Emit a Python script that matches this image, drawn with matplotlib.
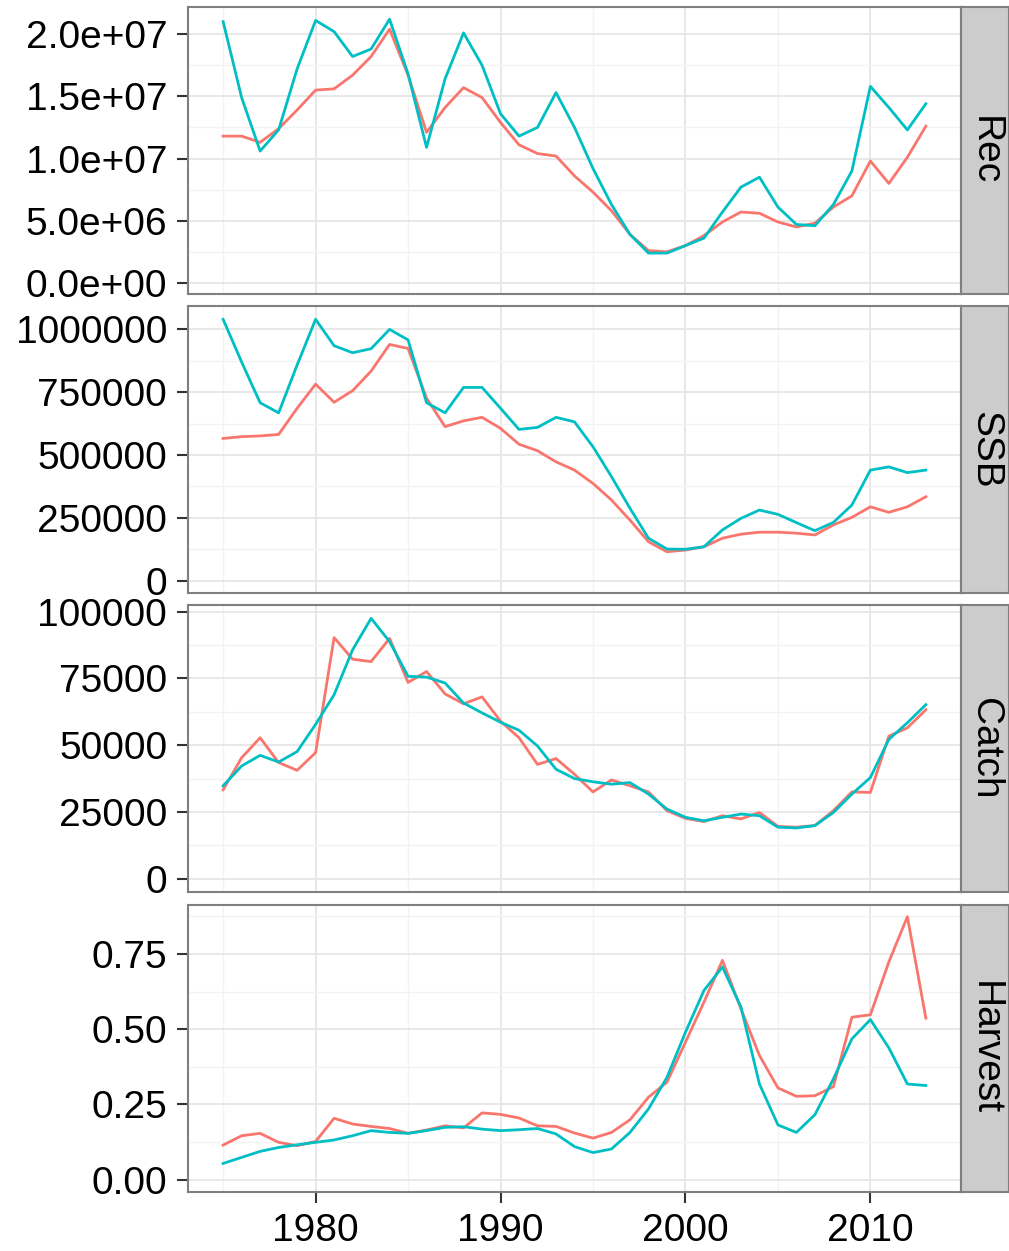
import numpy as np
import matplotlib
matplotlib.use("Agg")
import matplotlib.pyplot as plt
from matplotlib.ticker import FixedLocator

plt.rcParams['font.family'] = ['Liberation Sans', 'DejaVu Sans']

years = np.arange(1975, 2014)

# Rec (millions)
rec_red = [11.8, 11.8, 11.3, 12.4, 13.9, 15.5, 15.6, 16.7, 18.2, 20.4,
           16.7, 12.1, 14.1, 15.7, 14.9, 12.9, 11.1, 10.4, 10.2, 8.6,
           7.3, 5.8, 3.9, 2.6, 2.5, 3.0, 3.8, 4.9, 5.7, 5.6,
           4.9, 4.5, 4.8, 6.1, 7.0, 9.8, 8.0, 10.1, 12.6]
rec_cyan = [21.0, 14.9, 10.6, 12.3, 17.2, 21.1, 20.2, 18.2, 18.8, 21.2,
            16.8, 10.9, 16.4, 20.1, 17.5, 13.6, 11.8, 12.5, 15.3, 12.5,
            9.2, 6.3, 3.9, 2.4, 2.4, 3.0, 3.6, 5.7, 7.7, 8.5,
            6.1, 4.7, 4.6, 6.3, 9.0, 15.8, 14.1, 12.3, 14.4]

# SSB (thousands)
ssb_red = [566, 573, 576, 582, 686, 782, 710, 756, 834, 940,
           924, 726, 613, 636, 650, 606, 543, 517, 473, 440,
           387, 321, 241, 155, 115, 122, 135, 169, 185, 193,
           193, 189, 182, 222, 252, 294, 272, 294, 334]
ssb_cyan = [1040, 870, 708, 668, 858, 1040, 935, 907, 923, 1000,
            958, 708, 668, 769, 769, 686, 602, 610, 650, 632,
            533, 414, 288, 169, 126, 125, 135, 202, 248, 281,
            264, 231, 199, 232, 301, 440, 453, 430, 440]

# Catch (thousands)
catch_red = [33.3, 45.3, 52.8, 43.5, 40.6, 47.2, 90.3, 82.2, 81.3, 90.0,
             73.5, 77.6, 69.2, 65.5, 68.1, 59.0, 52.8, 42.8, 45.0, 39.1,
             32.5, 37.0, 34.8, 32.5, 25.5, 22.6, 21.4, 23.6, 22.4, 24.8,
             19.6, 19.3, 19.9, 25.5, 32.5, 32.3, 53.4, 56.5, 63.3]
catch_cyan = [34.8, 42.2, 46.2, 43.7, 47.6, 57.8, 68.9, 85.7, 97.5, 88.8,
              75.8, 75.5, 73.3, 65.8, 62.1, 58.6, 55.6, 49.7, 41.0, 37.5,
              36.3, 35.4, 36.0, 31.7, 26.1, 23.0, 21.7, 23.0, 24.2, 23.6,
              19.3, 19.0, 19.9, 24.8, 31.7, 37.9, 52.2, 58.4, 65.2]

# Harvest
harv_red = [0.115, 0.146, 0.154, 0.124, 0.113, 0.127, 0.204, 0.185, 0.177, 0.170,
            0.154, 0.165, 0.179, 0.172, 0.222, 0.217, 0.205, 0.179, 0.177, 0.155,
            0.138, 0.157, 0.199, 0.274, 0.324, 0.457, 0.590, 0.729, 0.568, 0.413,
            0.305, 0.277, 0.279, 0.309, 0.540, 0.548, 0.724, 0.874, 0.537]
harv_cyan = [0.054, 0.074, 0.094, 0.107, 0.116, 0.124, 0.132, 0.146, 0.163, 0.157,
             0.154, 0.163, 0.174, 0.176, 0.168, 0.163, 0.166, 0.170, 0.152, 0.110,
             0.090, 0.102, 0.157, 0.235, 0.340, 0.490, 0.629, 0.707, 0.574, 0.318,
             0.182, 0.157, 0.216, 0.335, 0.468, 0.532, 0.438, 0.318, 0.313]

panels = [
    ("Rec", np.array(rec_red) * 1e6, np.array(rec_cyan) * 1e6,
     [0, 5e6, 1e7, 1.5e7, 2e7],
     ["0.0e+00", "5.0e+06", "1.0e+07", "1.5e+07", "2.0e+07"],
     (-0.89e6, 22.18e6)),
    ("SSB", np.array(ssb_red) * 1e3, np.array(ssb_cyan) * 1e3,
     [0, 250000, 500000, 750000, 1000000],
     ["0", "250000", "500000", "750000", "1000000"],
     (-49e3, 1093e3)),
    ("Catch", np.array(catch_red) * 1e3, np.array(catch_cyan) * 1e3,
     [0, 25000, 50000, 75000, 100000],
     ["0", "25000", "50000", "75000", "100000"],
     (-4.97e3, 102.5e3)),
    ("Harvest", np.array(harv_red), np.array(harv_cyan),
     [0, 0.25, 0.5, 0.75],
     ["0.00", "0.25", "0.50", "0.75"],
     (-0.041, 0.913)),
]

W, H = 1009, 1251
fig = plt.figure(figsize=(W / 100, H / 100), dpi=100)

left, right = 188, 961
tops = [7, 306, 605, 905]
ph = 287
border = "#7F7F7F"
fs = 28

for i, (name, red, cyan, yt, ylab, ylim) in enumerate(panels):
    top = tops[i]
    ax = fig.add_axes([left / W, 1 - (top + ph) / H, (right - left) / W, ph / H])
    ax.plot(years, red, color="#F8766D", lw=2.0, zorder=3)
    ax.plot(years, cyan, color="#00BFC4", lw=2.0, zorder=3)
    ax.set_xlim(1973.1, 2014.9)
    ax.set_ylim(*ylim)
    ax.yaxis.set_major_locator(FixedLocator(yt))
    ax.set_yticklabels(ylab)
    minor_y = [(a + b) / 2 for a, b in zip(yt[:-1], yt[1:])]
    if ylim[1] > yt[-1] + (yt[1] - yt[0]) / 2:
        minor_y.append(yt[-1] + (yt[1] - yt[0]) / 2)
    ax.yaxis.set_minor_locator(FixedLocator(minor_y))
    ax.xaxis.set_major_locator(FixedLocator([1980, 1990, 2000, 2010]))
    ax.xaxis.set_minor_locator(FixedLocator([1975, 1985, 1995, 2005]))
    ax.grid(which="major", color="#E6E6E6", lw=1.3, zorder=0)
    ax.grid(which="minor", color="#F3F3F3", lw=1.0, zorder=0)
    ax.set_axisbelow(True)
    for s in ax.spines.values():
        s.set_color(border)
        s.set_linewidth(1.5)
    ax.tick_params(axis="y", which="major", length=8, width=1.5, color="#333333",
                   labelsize=fs, pad=7, labelcolor="black")
    ax.tick_params(which="minor", length=0)
    if i == 3:
        ax.tick_params(axis="x", which="major", length=8, width=1.5, color="#333333",
                       labelsize=fs, pad=7, labelcolor="black")
    else:
        ax.tick_params(axis="x", which="major", length=0, labelbottom=False)

    # strip on the right
    sax = fig.add_axes([right / W, 1 - (top + ph) / H, (W - right) / W, ph / H])
    sax.set_facecolor("#CCCCCC")
    sax.set_xticks([])
    sax.set_yticks([])
    for s in sax.spines.values():
        s.set_color(border)
        s.set_linewidth(1.5)
    sax.text(0.5, 0.5, name, rotation=-90, ha="center", va="center",
             fontsize=fs, color="black", transform=sax.transAxes)

fig.savefig("out.png", dpi=100)
